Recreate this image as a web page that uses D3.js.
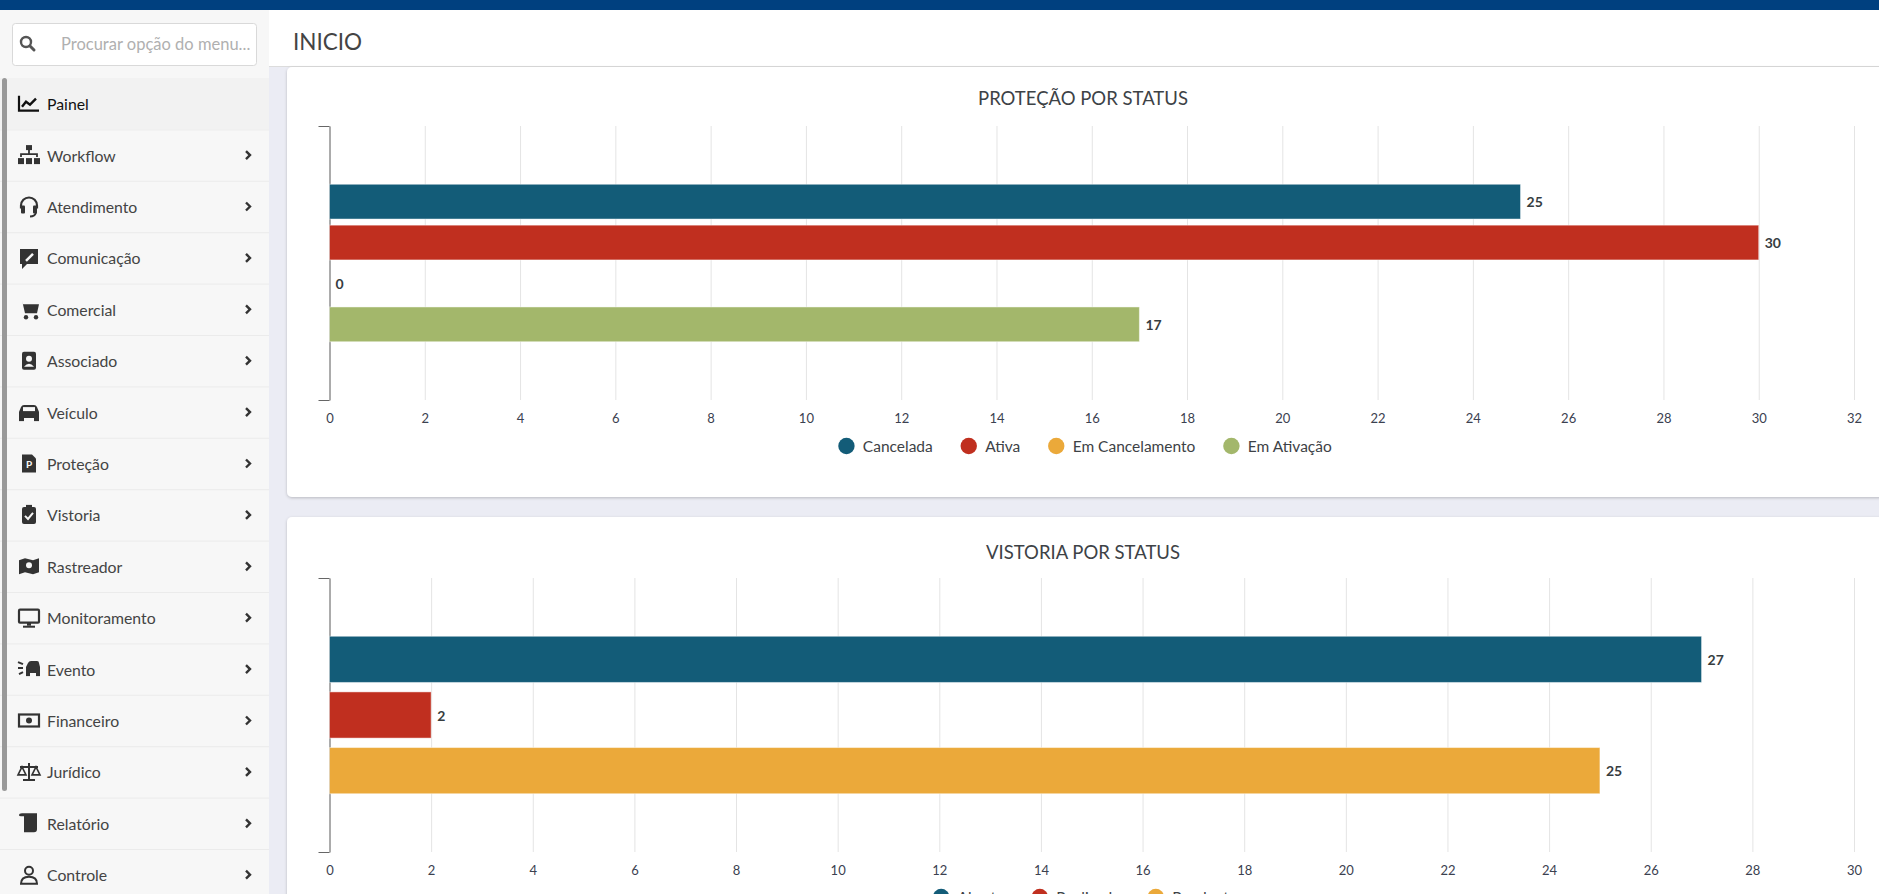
<!DOCTYPE html>
<html>
<head>
<meta charset="utf-8">
<script src="https://cdn.jsdelivr.net/npm/d3@7"></script>
<style>
  body { margin: 0; overflow: hidden; background: #ebecf4; font-family: Lato, "Open Sans", sans-serif; }
</style>
</head>
<body>
<script>
// menu do lado esquerdo
var menuItems = ['Painel', 'Workflow', 'Atendimento', 'Comunicação', 'Comercial', 'Associado',
                 'Veículo', 'Proteção', 'Vistoria', 'Rastreador', 'Monitoramento', 'Evento',
                 'Financeiro', 'Jurídico', 'Relatório', 'Controle'];

// dados dos graficos
var protecaoSeries = ['Cancelada', 'Ativa', 'Em Cancelamento', 'Em Ativação'];
var protecaoValues = [25, 30, 0, 17];
var protecaoTicks = [0, 2, 4, 6, 8, 10, 12, 14, 16, 18, 20, 22, 24, 26, 28, 30, 32];

var vistoriaSeries = ['Aberta', 'Realizada', 'Pendente'];
var vistoriaValues = [27, 2, 25];
var vistoriaTicks = [0, 2, 4, 6, 8, 10, 12, 14, 16, 18, 20, 22, 24, 26, 28, 30];

var seriesColors = ['#135c78', '#c02f1f', '#eba93a', '#a3b76b'];

var w = 1879,
    h = 894;

var svg = d3.select('body')
            .append('svg')
            .attr('width', w)
            .attr('height', h);

var shadow = svg.append('defs').append('filter')
                .attr('id', 'shadow')
                .attr('x', '-2%').attr('y', '-5%')
                .attr('width', '104%').attr('height', '112%');
shadow.append('feDropShadow')
      .attr('dx', 0).attr('dy', 1)
      .attr('stdDeviation', 1.5)
      .attr('flood-color', '#000')
      .attr('flood-opacity', 0.22);

// fundo
svg.append('rect').attr('width', w).attr('height', h).attr('fill', '#ebecf4');

// cabecalho
svg.append('rect')
   .attr('x', 269).attr('y', 10)
   .attr('width', w - 269).attr('height', 56)
   .attr('fill', '#fff');
svg.append('line')
   .attr('x1', 269).attr('x2', w)
   .attr('y1', 66.5).attr('y2', 66.5)
   .attr('stroke', '#dcdcdc');
svg.append('text')
   .attr('x', 293).attr('y', 41)
   .attr('dominant-baseline', 'central')
   .attr('font-size', 22.5)
   .attr('fill', '#444')
   .text('INICIO');

// barra azul do topo
svg.append('rect').attr('width', w).attr('height', 10).attr('fill', '#00407f');

// cards
[[67, 430], [517, 420]].forEach(function(c) {
  svg.append('rect')
     .attr('x', 287).attr('y', c[0])
     .attr('width', w - 287 + 20).attr('height', c[1])
     .attr('rx', 5)
     .attr('fill', '#fff')
     .attr('filter', 'url(#shadow)');
});

// ---------- sidebar ----------
var side = svg.append('g');
side.append('rect').attr('x', 0).attr('y', 10).attr('width', 269).attr('height', h - 10).attr('fill', '#f7f7f7');

// campo de busca
side.append('rect')
    .attr('x', 12.5).attr('y', 23.5)
    .attr('width', 244).attr('height', 42)
    .attr('rx', 3)
    .attr('fill', '#fff')
    .attr('stroke', '#d9d9d9');
side.append('circle').attr('cx', 26).attr('cy', 42).attr('r', 5)
    .attr('fill', 'none').attr('stroke', '#555').attr('stroke-width', 2.4);
side.append('line').attr('x1', 30).attr('y1', 46).attr('x2', 34).attr('y2', 50)
    .attr('stroke', '#555').attr('stroke-width', 3).attr('stroke-linecap', 'round');
side.append('text')
    .attr('x', 61).attr('y', 44)
    .attr('dominant-baseline', 'central')
    .attr('font-size', 16.5)
    .attr('fill', '#b0b0b0')
    .text('Procurar opção do menu...');

var rowH = 51.4,
    rowTop = 78;

// icones bem simples, desenhados em torno de (0,0)
var icons = [
  function(g) { // painel
    g.append('path').attr('d', 'M-10,-8V7H10').attr('fill', 'none').attr('stroke', '#111').attr('stroke-width', 2.2);
    g.append('path').attr('d', 'M-7,3L-3,-2L1,1L7,-5').attr('fill', 'none').attr('stroke', '#111').attr('stroke-width', 2.4);
  },
  function(g) { // workflow
    g.append('rect').attr('x', -3).attr('y', -10).attr('width', 6).attr('height', 5);
    g.append('path').attr('d', 'M0,-5V-1M-8,2V-1H8V2').attr('fill', 'none').attr('stroke', '#333').attr('stroke-width', 1.8);
    [-11, -3, 5].forEach(function(x) {
      g.append('rect').attr('x', x).attr('y', 3).attr('width', 6).attr('height', 6);
    });
  },
  function(g) { // atendimento
    g.append('path').attr('d', 'M-8,2V-1A8,8 0 0 1 8,-1V2').attr('fill', 'none').attr('stroke', '#333').attr('stroke-width', 2.2);
    g.append('rect').attr('x', -8).attr('y', -1).attr('width', 4).attr('height', 8).attr('rx', 1);
    g.append('rect').attr('x', 4).attr('y', -1).attr('width', 4).attr('height', 8).attr('rx', 1);
    g.append('path').attr('d', 'M7,6Q6,10 1,10').attr('fill', 'none').attr('stroke', '#333').attr('stroke-width', 1.8);
  },
  function(g) { // comunicacao
    g.append('path').attr('d', 'M-9,-9H9V6H-2L-7,11V6H-9Z');
    g.append('path').attr('d', 'M-3,3L4,-4').attr('stroke', '#f7f7f7').attr('stroke-width', 2.5);
  },
  function(g) { // comercial
    g.append('path').attr('d', 'M-11,-9H-7L-4,4H8L10,-5H-6L-7,-9Z');
    g.append('circle').attr('cx', -3).attr('cy', 8).attr('r', 2.2);
    g.append('circle').attr('cx', 7).attr('cy', 8).attr('r', 2.2);
  },
  function(g) { // associado
    g.append('rect').attr('x', -7).attr('y', -9).attr('width', 14).attr('height', 18).attr('rx', 2);
    g.append('circle').attr('cx', 0).attr('cy', -2).attr('r', 3).attr('fill', '#f7f7f7');
    g.append('path').attr('d', 'M-5,6Q0,0 5,6Z').attr('fill', '#f7f7f7');
  },
  function(g) { // veiculo
    g.append('path').attr('d', 'M-10,0L-8,-5Q-7,-7 -5,-7H5Q7,-7 8,-5L10,0V6H-10Z');
    g.append('rect').attr('x', -10).attr('y', 5).attr('width', 5).attr('height', 4);
    g.append('rect').attr('x', 5).attr('y', 5).attr('width', 5).attr('height', 4);
    g.append('rect').attr('x', -6).attr('y', -5).attr('width', 12).attr('height', 4).attr('fill', '#f7f7f7');
  },
  function(g) { // protecao
    g.append('path').attr('d', 'M-7,-9H3L7,-5V9H-7Z');
    g.append('text').attr('x', 0).attr('y', 4).attr('text-anchor', 'middle')
     .attr('font-size', 10).attr('font-weight', 'bold').attr('fill', '#f7f7f7').text('P');
  },
  function(g) { // vistoria
    g.append('rect').attr('x', -7).attr('y', -8).attr('width', 14).attr('height', 17).attr('rx', 2);
    g.append('rect').attr('x', -3).attr('y', -10).attr('width', 6).attr('height', 4).attr('fill', '#333');
    g.append('path').attr('d', 'M-4,1L-1,4L4,-2').attr('fill', 'none').attr('stroke', '#f7f7f7').attr('stroke-width', 2);
  },
  function(g) { // rastreador
    g.append('path').attr('d', 'M-10,-6L-4,-8L4,-6L10,-8V6L4,8L-4,6L-10,8Z');
    g.append('circle').attr('cx', 0).attr('cy', -1).attr('r', 3).attr('fill', '#f7f7f7');
  },
  function(g) { // monitoramento
    g.append('rect').attr('x', -10).attr('y', -8).attr('width', 20).attr('height', 13).attr('rx', 1)
     .attr('fill', 'none').attr('stroke', '#333').attr('stroke-width', 2.2);
    g.append('rect').attr('x', -2).attr('y', 5).attr('width', 4).attr('height', 3);
    g.append('rect').attr('x', -6).attr('y', 8).attr('width', 12).attr('height', 2);
  },
  function(g) { // evento
    g.append('path').attr('d', 'M-3,-2L-1,-6Q0,-8 2,-8H8Q10,-8 10,-6L11,-2V4H-3Z');
    g.append('path').attr('d', 'M-11,-7L-6,-5M-11,-1L-6,-1M-10,5L-6,3').attr('stroke', '#333').attr('stroke-width', 2);
    g.append('rect').attr('x', -3).attr('y', 3).attr('width', 4).attr('height', 4);
    g.append('rect').attr('x', 7).attr('y', 3).attr('width', 4).attr('height', 4);
  },
  function(g) { // financeiro
    g.append('rect').attr('x', -10).attr('y', -6).attr('width', 20).attr('height', 12)
     .attr('fill', 'none').attr('stroke', '#333').attr('stroke-width', 2.2);
    g.append('circle').attr('cx', 0).attr('cy', 0).attr('r', 3);
  },
  function(g) { // juridico
    g.append('path').attr('d', 'M0,-9V8M-6,8H6M-9,-5H9').attr('stroke', '#333').attr('stroke-width', 2);
    g.append('path').attr('d', 'M-11,3L-7,-5L-3,3Z M3,3L7,-5L11,3Z').attr('fill', 'none').attr('stroke', '#333').attr('stroke-width', 1.6);
  },
  function(g) { // relatorio
    g.append('path').attr('d', 'M-10,-8Q-10,-10 -7,-10H8V6Q8,9 5,9H-5V-7H-8Q-10,-7 -10,-8Z');
  },
  function(g) { // controle
    g.append('circle').attr('cx', 0).attr('cy', -4).attr('r', 4).attr('fill', 'none').attr('stroke', '#333').attr('stroke-width', 2);
    g.append('path').attr('d', 'M-8,9Q-8,2 0,2Q8,2 8,9Z').attr('fill', 'none').attr('stroke', '#333').attr('stroke-width', 2);
  }
];

var rows = side.selectAll('g.item')
               .data(menuItems)
               .enter()
               .append('g')
               .attr('class', 'item')
               .attr('transform', function(d, i) {
                  return 'translate(0,' + (rowTop + i * rowH) + ')';
               });

rows.append('rect')
    .attr('x', 0).attr('y', 0)
    .attr('width', 269).attr('height', rowH)
    .attr('fill', function(d, i) { return i === 0 ? '#f2f2f2' : '#f7f7f7'; });

rows.filter(function(d, i) { return i > 0; })
    .append('line')
    .attr('x1', 0).attr('x2', 269)
    .attr('y1', 0.5).attr('y2', 0.5)
    .attr('stroke', '#ebebeb');

rows.append('g')
    .attr('transform', 'translate(29,' + (rowH / 2) + ')')
    .attr('fill', '#333')
    .each(function(d, i) { icons[i](d3.select(this)); });

rows.append('text')
    .attr('x', 47)
    .attr('y', rowH / 2)
    .attr('dominant-baseline', 'central')
    .attr('font-size', 15.8)
    .attr('fill', function(d, i) { return i === 0 ? '#111' : '#444'; })
    .text(function(d) { return d; });

rows.filter(function(d, i) { return i > 0; })
    .append('path')
    .attr('d', 'M246,' + (rowH / 2 - 4) + 'L250,' + (rowH / 2) + 'L246,' + (rowH / 2 + 4))
    .attr('fill', 'none')
    .attr('stroke', '#333')
    .attr('stroke-width', 2.4);

// barra de rolagem
side.append('rect')
    .attr('x', 2).attr('y', 78)
    .attr('width', 5).attr('height', 713)
    .attr('rx', 2.5)
    .attr('fill', '#999');

// ---------- graficos ----------
function drawChart(opt) {
  var g = svg.append('g');
  var left = 329.5,
      right = 1854;

  g.append('text')
   .attr('x', 1083).attr('y', opt.titleY)
   .attr('text-anchor', 'middle')
   .attr('dominant-baseline', 'central')
   .attr('font-size', 18.5)
   .attr('fill', '#3d4246')
   .text(opt.title);

  var xScale = d3.scaleLinear()
                 .domain([0, opt.max])
                 .range([left, right]);

  // uma categoria so, com uma barra por serie
  var y0 = d3.scaleBand()
             .domain(['total'])
             .range([opt.top, opt.bottom])
             .paddingOuter(0.37);

  var y1 = d3.scaleBand()
             .domain(opt.series)
             .range([0, y0.bandwidth()])
             .paddingInner(opt.gap);

  // grade + rotulos do eixo x
  g.append('g')
   .attr('transform', 'translate(0,' + opt.bottom + ')')
   .call(d3.axisBottom(xScale)
           .tickValues(opt.ticks)
           .tickSize(-(opt.bottom - opt.top))
           .tickPadding(14))
   .attr('font-family', 'Lato, "Open Sans", sans-serif')
   .attr('font-size', 13)
   .call(function(a) { a.select('.domain').remove(); })
   .call(function(a) { a.selectAll('line').attr('stroke', '#e4e4e4'); })
   .call(function(a) { a.selectAll('text').attr('fill', '#3b4150'); });

  // eixo y (so a linha e as marcas das pontas)
  var yEdge = d3.scaleLinear().domain([0, 1]).range([opt.bottom, opt.top]);
  g.append('g')
   .attr('transform', 'translate(' + left + ',0)')
   .call(d3.axisLeft(yEdge)
           .tickValues([0, 1])
           .tickFormat('')
           .tickSizeInner(11)
           .tickSizeOuter(0))
   .call(function(a) { a.selectAll('line, path').attr('stroke', '#666'); });

  var data = opt.series.map(function(s, i) {
    return { name: s, value: opt.values[i], color: seriesColors[i] };
  });
  var by = y0('total');

  g.selectAll('rect.bar')
   .data(data.filter(function(d) { return d.value > 0; }))
   .enter()
   .append('rect')
   .attr('class', 'bar')
   .attr('x', xScale(0))
   .attr('y', function(d) { return by + y1(d.name); })
   .attr('width', function(d) { return xScale(d.value) - xScale(0); })
   .attr('height', y1.bandwidth())
   .attr('fill', function(d) { return d.color; })
   .attr('stroke', '#fff')
   .attr('stroke-opacity', 0.45);

  g.selectAll('text.val')
   .data(data)
   .enter()
   .append('text')
   .attr('class', 'val')
   .attr('x', function(d) { return xScale(d.value) + 6; })
   .attr('y', function(d) { return by + y1(d.name) + y1.bandwidth() / 2; })
   .attr('dominant-baseline', 'central')
   .attr('font-size', 14)
   .attr('font-weight', 'bold')
   .attr('fill', '#373d3f')
   .text(function(d) { return d.value; });

  // legenda
  var r = 8.2;
  var leg = g.append('g');
  var items = leg.selectAll('g')
                 .data(data)
                 .enter()
                 .append('g');
  items.append('circle')
       .attr('r', r)
       .attr('cx', r)
       .attr('cy', opt.legendY)
       .attr('fill', function(d) { return d.color; });
  items.append('text')
       .attr('x', r + 16.4)
       .attr('y', opt.legendY)
       .attr('dominant-baseline', 'central')
       .attr('font-size', 15.5)
       .attr('fill', '#3d4246')
       .text(function(d) { return d.name; });

  var pos = 0,
      space = 36 - r;
  items.each(function() {
    var it = d3.select(this);
    it.attr('transform', 'translate(' + pos + ',0)');
    pos += r + 16.4 + it.select('text').node().getComputedTextLength() + space;
  });
  var total = pos - space;
  leg.attr('transform', 'translate(' + (1085 - total / 2) + ',0)');
}

drawChart({
  title: 'PROTEÇÃO POR STATUS',
  titleY: 98,
  top: 126,
  bottom: 400,
  max: 32,
  ticks: protecaoTicks,
  series: protecaoSeries,
  values: protecaoValues,
  gap: 0.15,
  legendY: 446
});

drawChart({
  title: 'VISTORIA POR STATUS',
  titleY: 552,
  top: 578,
  bottom: 852,
  max: 30,
  ticks: vistoriaTicks,
  series: vistoriaSeries,
  values: vistoriaValues,
  gap: 0.17,
  legendY: 897
});
</script>
</body>
</html>
